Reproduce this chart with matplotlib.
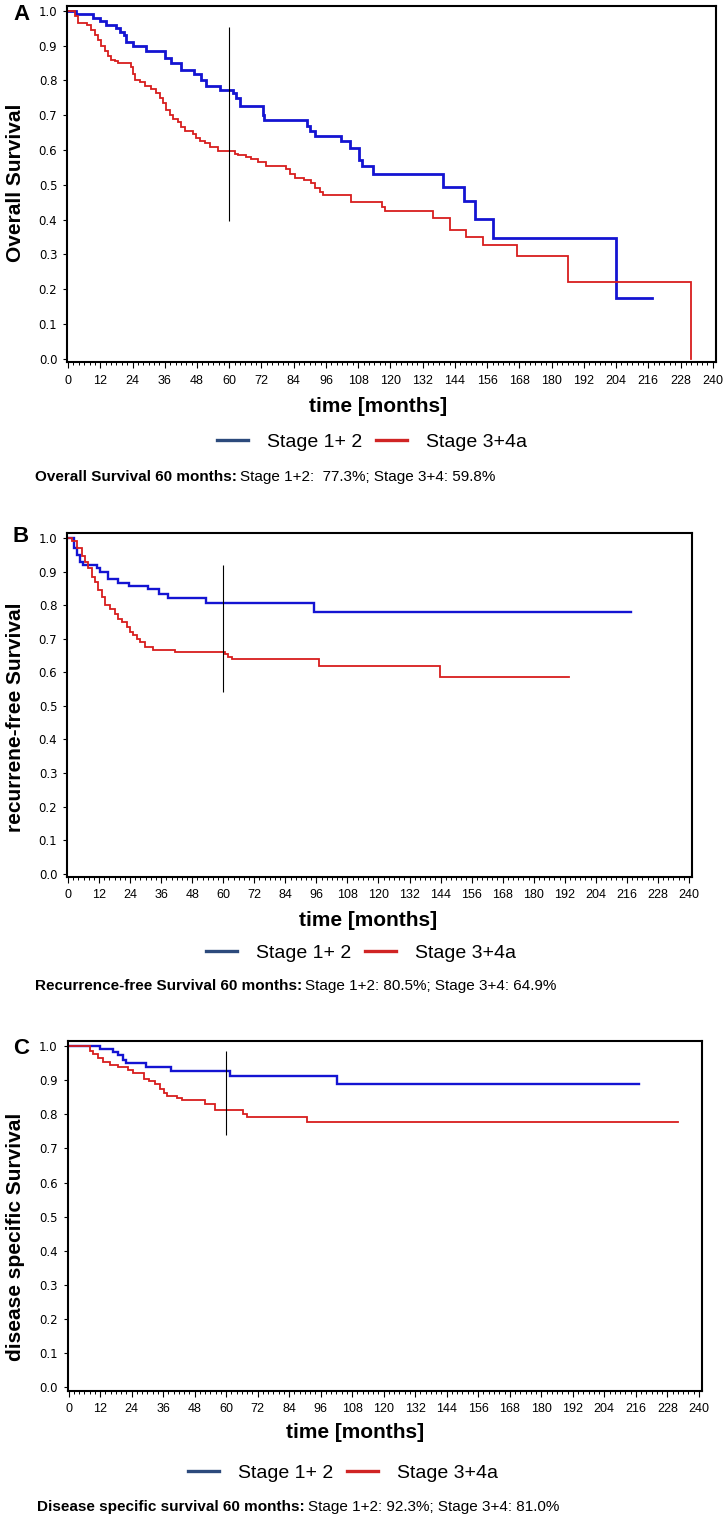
import matplotlib
matplotlib.use("Agg")
import matplotlib.pyplot as plt
from matplotlib.lines import Line2D
from matplotlib.ticker import MultipleLocator

plt.rcParams['font.family'] = ['Liberation Sans', 'DejaVu Sans']

# ---- data (months, survival) ----
# A: overall survival
a_blue_t = [0, 3, 9.3, 11.8, 14.3, 18, 19.5, 21, 21.7, 24, 29, 36, 38.5, 42, 47, 49.6, 51.5, 56.4,
            61.4, 62.6, 63.9, 72.6, 73, 89, 89.9, 91.8, 101.7, 104.8, 108.3, 109.6, 113.6, 139.6,
            147.4, 151.5, 158, 203.9, 217.2]
a_blue_s = [1.0, 0.991, 0.98, 0.97, 0.96, 0.95, 0.94, 0.93, 0.91, 0.90, 0.885, 0.865, 0.85, 0.83,
            0.82, 0.80, 0.785, 0.773, 0.765, 0.75, 0.727, 0.70, 0.686, 0.67, 0.655, 0.64, 0.625,
            0.607, 0.572, 0.553, 0.532, 0.493, 0.454, 0.402, 0.347, 0.174, 0.174]
a_red_t = [0, 2.5, 3.7, 7, 8.7, 10, 11, 12.4, 13.6, 14.9, 16, 17.4, 18.6, 23.5, 24.2, 24.8, 26.7,
           28.5, 31, 32.9, 34.1, 35.3, 36.6, 37.8, 39, 40.9, 42.2, 43.4, 46.5, 47.8, 49, 50.9, 52.7,
           55.8, 62, 63.3, 66.4, 68, 70.7, 73.8, 81.2, 82.5, 84.3, 88, 90.5, 91.8, 93.6, 94.9,
           105.4, 116.7, 118, 135.9, 142.1, 148.1, 154.5, 167.3, 186.2, 231.8]
a_red_s = [1.0, 0.985, 0.966, 0.96, 0.945, 0.93, 0.915, 0.90, 0.885, 0.87, 0.86, 0.855, 0.85, 0.84,
           0.82, 0.80, 0.795, 0.785, 0.775, 0.765, 0.75, 0.735, 0.715, 0.70, 0.69, 0.68, 0.665,
           0.655, 0.645, 0.635, 0.625, 0.62, 0.61, 0.598, 0.59, 0.585, 0.58, 0.575, 0.565, 0.555,
           0.545, 0.53, 0.52, 0.515, 0.505, 0.49, 0.48, 0.47, 0.452, 0.436, 0.425, 0.404, 0.371,
           0.349, 0.326, 0.297, 0.222, 0.0]

# B: recurrence-free survival
b_blue_t = [0, 2.3, 3.6, 4.6, 5.9, 11.1, 12.4, 15.6, 19.5, 23.4, 31.1, 35, 38.8, 53.4, 95, 217.6]
b_blue_s = [1.0, 0.97, 0.95, 0.93, 0.92, 0.91, 0.90, 0.878, 0.866, 0.857, 0.847, 0.833, 0.82,
            0.805, 0.78, 0.78]
b_red_t = [0, 1.4, 3.4, 5.3, 6.6, 7.9, 9.2, 10.5, 11.7, 13, 14.3, 16.3, 18.2, 19.5, 20.8, 22.7,
           24, 25.3, 26.6, 27.9, 29.8, 33, 41.4, 60.8, 62, 63.4, 96.9, 143.6, 193.7]
b_red_s = [1.0, 0.99, 0.97, 0.945, 0.93, 0.91, 0.885, 0.87, 0.845, 0.825, 0.80, 0.79, 0.775, 0.76,
           0.75, 0.735, 0.72, 0.71, 0.70, 0.69, 0.675, 0.667, 0.66, 0.655, 0.645, 0.64, 0.62,
           0.587, 0.587]

# C: disease specific survival
c_blue_t = [0, 12.1, 17.1, 19, 20.9, 22, 29.4, 39, 61.5, 102.2, 217.3]
c_blue_s = [1.0, 0.992, 0.982, 0.973, 0.96, 0.95, 0.938, 0.927, 0.911, 0.888, 0.888]
c_red_t = [0, 8, 9.5, 11.4, 13.3, 15.9, 19, 22.8, 24.7, 28.6, 30.5, 33, 34.9, 36.2, 37.4, 41.2,
           43.1, 52, 55.8, 66.6, 67.9, 90.7, 231.9]
c_red_s = [1.0, 0.987, 0.978, 0.966, 0.953, 0.946, 0.94, 0.93, 0.921, 0.904, 0.899, 0.889, 0.875,
           0.862, 0.855, 0.848, 0.841, 0.831, 0.813, 0.801, 0.792, 0.777, 0.777]

# vertical 60-month marker: (x, ymin, ymax)
marker_a = [60, 0.397, 0.955]
marker_b = [60, 0.54, 0.92]
marker_c = [60, 0.738, 0.985]

ylabels = ["Overall Survival", "recurrene-free Survival", "disease specific Survival"]
letters = ["A", "B", "C"]
legend_labels = ["Stage 1+ 2", "Stage 3+4a"]
cap_bold = ["Overall Survival 60 months:", "Recurrence-free Survival 60 months:",
            "Disease specific survival 60 months:"]
cap_reg = ["Stage 1+2:  77.3%; Stage 3+4: 59.8%", "Stage 1+2: 80.5%; Stage 3+4: 64.9%",
           "Stage 1+2: 92.3%; Stage 3+4: 81.0%"]
xticks = list(range(0, 241, 12))

BLUE = "#1414d2"
RED = "#d81e1e"
W, H = 726, 1517

fig = plt.figure(figsize=(W / 100, H / 100), dpi=100)


def px_rect(l, r, t, b):
    return [l / W, 1 - b / H, (r - l) / W, (b - t) / H]


# panel geometry in pixels: left, right, top, bottom, ylim, ylabel centre y, letter y,
# time label (x, y), legend (x, y), caption (x, y)
panels = [
    dict(rect=(67, 716, 6, 362), ylim=(-0.009, 1.014), ylab_y=183, let_y=15,
         time=(378, 407), leg=(372, 442), cap=(35, 477),
         data=(a_blue_t, a_blue_s, a_red_t, a_red_s), mark=marker_a, lw_b=2.0, lw_r=1.3),
    dict(rect=(67, 692, 533, 877), ylim=(-0.010, 1.015), ylab_y=717, let_y=537,
         time=(368, 921), leg=(361, 953), cap=(35, 986),
         data=(b_blue_t, b_blue_s, b_red_t, b_red_s), mark=marker_b, lw_b=1.7, lw_r=1.3),
    dict(rect=(67.5, 702, 1041, 1391), ylim=(-0.011, 1.015), ylab_y=1237, let_y=1048,
         time=(355, 1433), leg=(343, 1473), cap=(37, 1507),
         data=(c_blue_t, c_blue_s, c_red_t, c_red_s), mark=marker_c, lw_b=1.7, lw_r=1.3),
]

fig.canvas.draw()
renderer = fig.canvas.get_renderer()

for i, p in enumerate(panels):
    ax = fig.add_axes(px_rect(*p['rect']))
    bt, bs, rt, rs = p['data']
    ax.plot(bt, bs, drawstyle='steps-post', color=BLUE, lw=p['lw_b'], solid_joinstyle='miter')
    ax.plot(rt, rs, drawstyle='steps-post', color=RED, lw=p['lw_r'], solid_joinstyle='miter')
    m = p['mark']
    ax.vlines(m[0], m[1], m[2], color='black', lw=0.8)

    ax.set_xlim(-0.4, 241.2)
    ax.set_ylim(*p['ylim'])
    ax.set_xticks(xticks)
    ax.xaxis.set_minor_locator(MultipleLocator(2))
    ax.set_yticks([k / 10 for k in range(11)])
    ax.set_yticklabels([f"{k / 10:.1f}" for k in range(11)], family='DejaVu Sans', fontsize=8.5)
    ax.set_xticklabels([str(x) for x in xticks], fontsize=9)
    ax.tick_params(axis='x', which='major', direction='out', length=4, width=0.8, pad=5)
    ax.tick_params(axis='x', which='minor', direction='out', length=2.5, width=0.7)
    ax.tick_params(axis='y', direction='out', length=3, width=0.8, pad=4)
    for s in ax.spines.values():
        s.set_linewidth(1.5)
        s.set_color('black')

    # y label, panel letter, x label
    fig.text(16 / W, 1 - p['ylab_y'] / H, ylabels[i], rotation=90, ha='center', va='center',
             fontsize=15, fontweight='bold')
    fig.text(21 / W, 1 - p['let_y'] / H, letters[i], ha='center', va='center',
             fontsize=16, fontweight='bold')
    fig.text(p['time'][0] / W, 1 - p['time'][1] / H, "time [months]", ha='center', va='center',
             fontsize=15, fontweight='bold')

    handles = [Line2D([], [], color='#2c4a7c', lw=2.4), Line2D([], [], color='#d02424', lw=2.4)]
    fig.legend(handles, legend_labels, loc='center', ncol=2, frameon=False, fontsize=14,
               bbox_to_anchor=(p['leg'][0] / W, 1 - p['leg'][1] / H),
               handlelength=1.6, handletextpad=1.0, columnspacing=0.7)

    # caption: bold part then regular part
    tb = fig.text(p['cap'][0] / W, 1 - p['cap'][1] / H, cap_bold[i], ha='left', va='center',
                  fontsize=11, fontweight='bold')
    bb = tb.get_window_extent(renderer=renderer)
    fig.text((bb.x1 + 3) / W, 1 - p['cap'][1] / H, cap_reg[i], ha='left', va='center',
             fontsize=11)

fig.savefig("out.png", dpi=100)
